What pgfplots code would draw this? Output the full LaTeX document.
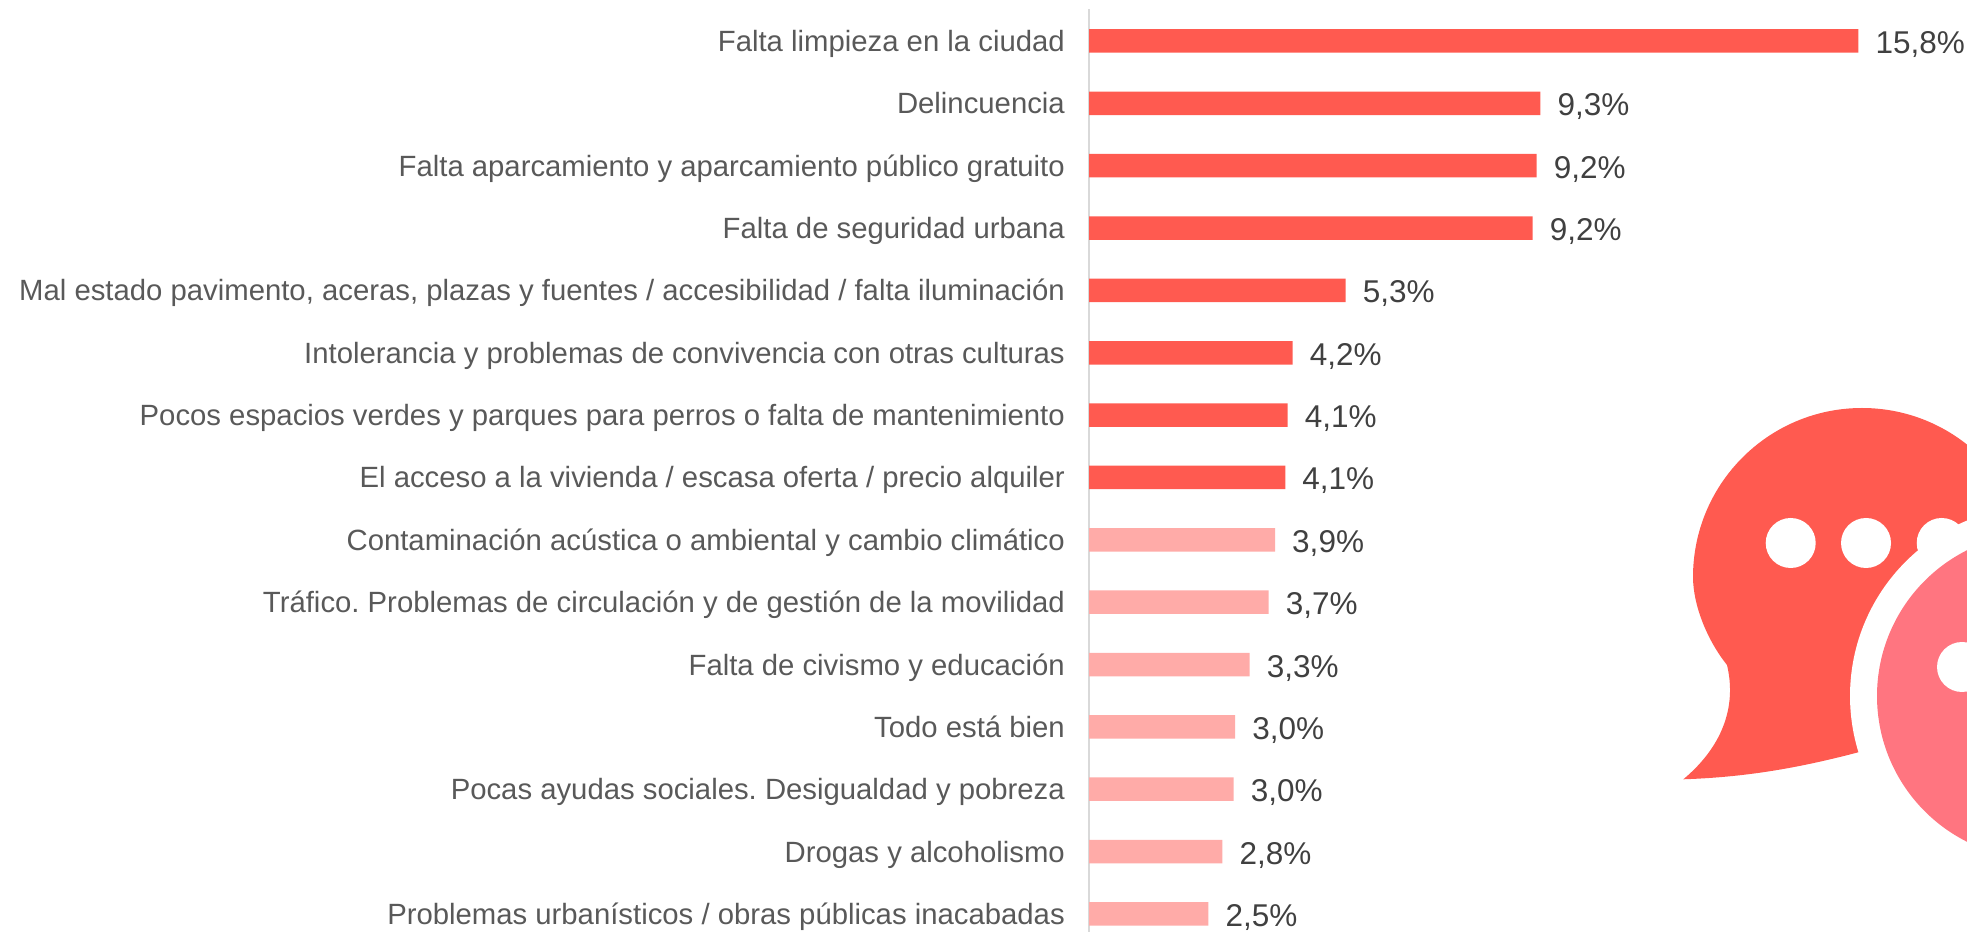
\documentclass[border=0pt]{standalone}
\usepackage{pgfplots}
\pgfplotsset{compat=1.18}
\usepackage{fontspec}
\setmainfont{Liberation Sans}
\definecolor{barred}{HTML}{FF5A50}
\definecolor{barlight}{HTML}{FFABA8}
\definecolor{logopink}{HTML}{FF7580}
\definecolor{cattext}{HTML}{595959}
\definecolor{valtext}{HTML}{404040}
\definecolor{axisgray}{HTML}{D9D9D9}
\begin{document}
\frenchspacing
\begin{tikzpicture}[x=1pt,y=1pt]
\useasboundingbox (0,0) rectangle (1967,932);
\begin{scope}
\clip (0,0) rectangle (1967,932);
% logo (coordinates: x, 932 - y)
\fill[barred] (1693,355) arc[start angle=180,end angle=0,radius=169]
  -- (1895,190)
  .. controls (1810,165) and (1750,155) .. (1683.3,152.7)
  .. controls (1722,185) and (1737,225) .. (1727,267)
  .. controls (1707,292) and (1693,327) .. (1693,355) -- cycle;
\fill[white] (1790.7,389) circle[radius=25];
\fill[white] (1866,389) circle[radius=25];
\fill[white] (1941.7,389) circle[radius=25];
\fill[white] (2040,236) circle[radius=190];
\fill[logopink] (2040,236) circle[radius=163];
\fill[white] (1962,265) circle[radius=25];
\end{scope}
\begin{axis}[
  at={(1089pt,0pt)}, anchor=south west,
  scale only axis, width=880pt, height=923pt,
  xmin=0, xmax=18.07,
  ymin=-0.513, ymax=14.29, y dir=reverse,
  axis x line=none,
  axis y line=left,
  y axis line style={-, draw=axisgray, line width=2.4pt},
  ytick={0,...,14},
  major tick length=0pt,
  yticklabels={
    Falta limpieza en la ciudad,
    Delincuencia,
    Falta aparcamiento y aparcamiento público gratuito,
    Falta de seguridad urbana,
    {Mal estado pavimento, aceras, plazas y fuentes / accesibilidad / falta iluminación},
    Intolerancia y problemas de convivencia con otras culturas,
    Pocos espacios verdes y parques para perros o falta de mantenimiento,
    El acceso a la vivienda / escasa oferta / precio alquiler,
    Contaminación acústica o ambiental y cambio climático,
    Tráfico. Problemas de circulación y de gestión de la movilidad,
    Falta de civismo y educación,
    Todo está bien,
    Pocas ayudas sociales. Desigualdad y pobreza,
    Drogas y alcoholismo,
    Problemas urbanísticos / obras públicas inacabadas},
  y tick label style={font=\fontsize{29.3}{34}\selectfont, text=cattext, text height=20pt, text depth=6pt, inner sep=0pt, xshift=-24pt, yshift=-3.5pt},
  xbar, bar shift=0pt, bar width=23.5pt,
  point meta=explicit symbolic,
  nodes near coords={\pgfplotspointmeta\%},
  every node near coord/.append style={font=\fontsize{31.5}{37}\selectfont, text=valtext, text height=22pt, text depth=7pt, inner sep=0pt, anchor=west, xshift=17pt, yshift=-5pt},
  clip=false,
]
\addplot[fill=barred, draw=none] table[x=v,y=p,meta=l,row sep=crcr] {
p v l\\
0 15.8 15,8\\
1 9.27 9,3\\
2 9.19 9,2\\
3 9.11 9,2\\
4 5.27 5,3\\
5 4.18 4,2\\
6 4.08 4,1\\
7 4.03 4,1\\
};
\addplot[fill=barlight, draw=none] table[x=v,y=p,meta=l,row sep=crcr] {
p v l\\
8 3.82 3,9\\
9 3.69 3,7\\
10 3.30 3,3\\
11 3.00 3,0\\
12 2.97 3,0\\
13 2.74 2,8\\
14 2.45 2,5\\
};
\end{axis}
\end{tikzpicture}
\end{document}
